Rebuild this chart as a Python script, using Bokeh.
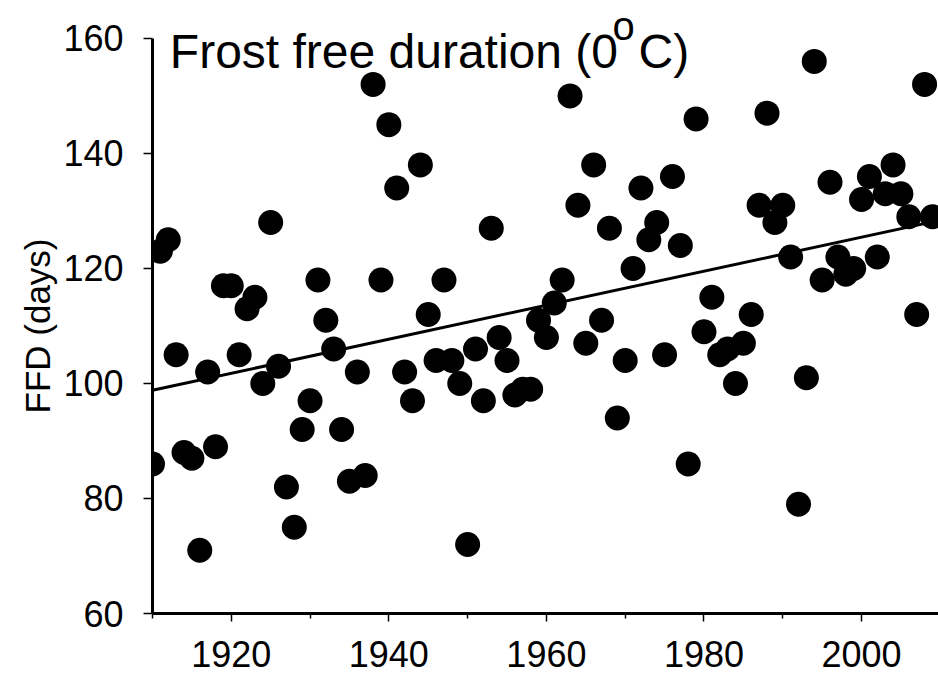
import numpy as np
from bokeh.plotting import figure
from bokeh.models import Range1d, FixedTicker, Label, Title
from bokeh.embed import file_html
from bokeh.resources import INLINE

# ---- data ----
years = list(range(1910, 2010))
ffd = [86, 123, 125, 105, 88, 87, 71, 102, 89, 117,
       117, 105, 113, 115, 100, 128, 103, 82, 75, 92,
       97, 118, 111, 106, 92, 83, 102, 84, 152, 118,
       145, 134, 102, 97, 138, 112, 104, 118, 104, 100,
       72, 106, 97, 127, 108, 104, 98, 99, 99, 111,
       108, 114, 118, 150, 131, 107, 138, 111, 127, 94,
       104, 120, 134, 125, 128, 105, 136, 124, 86, 146,
       109, 115, 105, 106, 100, 107, 112, 131, 147, 128,
       131, 122, 79, 101, 156, 118, 135, 122, 119, 120,
       132, 136, 122, 133, 138, 133, 129, 112, 152, 129]
x_major = [1920, 1940, 1960, 1980, 2000]
x_minor = [1910, 1930, 1950, 1970, 1990, 2010]
y_major = [60, 80, 100, 120, 140, 160]
title_parts = ["Frost free duration (0", "o", "C)"]
y_label = "FFD (days)"

FONT = "Liberation Sans"

# frame spans the full height; the y axis is drawn only over 60..160
p = figure(width=938, height=676,
           x_range=Range1d(1910, 2009.77), y_range=Range1d(60, 166.6),
           output_backend="svg", toolbar_location=None,
           min_border_left=152, min_border_right=0,
           min_border_top=0, min_border_bottom=63)
p.outline_line_color = None
p.xgrid.visible = False
p.ygrid.visible = False
p.background_fill_color = "white"
p.border_fill_color = "white"

# trend line (least squares fit of the series)
slope, icpt = np.polyfit(np.array(years, dtype=float), np.array(ffd, dtype=float), 1)
xs = [years[0], years[-1]]
p.line(xs, [icpt + slope * x for x in xs], line_color="black", line_width=3)

p.scatter(years, ffd, size=25, fill_color="black", line_color="black", line_width=0)

# axes
xa = p.xaxis[0]
xa.ticker = FixedTicker(ticks=x_major, minor_ticks=x_minor)
xa.axis_line_width = 3
xa.major_tick_line_width = 1.5
xa.minor_tick_line_width = 1.5
xa.major_tick_in = 0
xa.major_tick_out = 8
xa.minor_tick_in = 0
xa.minor_tick_out = 5
xa.major_label_text_font = FONT
xa.major_label_text_font_size = "36px"
xa.major_label_text_color = "black"
xa.major_label_standoff = 19

ya = p.yaxis[0]
ya.bounds = (60, 160)
ya.ticker = FixedTicker(ticks=y_major, minor_ticks=[])
ya.axis_line_width = 3
ya.major_tick_line_width = 1.5
ya.major_tick_in = 0
ya.major_tick_out = 9
ya.minor_tick_out = 0
ya.minor_tick_in = 0
ya.major_label_text_font = FONT
ya.major_label_text_font_size = "36px"
ya.major_label_text_color = "black"
ya.major_label_standoff = 20

# y axis title, placed over the 60..160 span
p.add_layout(Title(text=y_label, text_font=FONT, text_font_size="35px",
                   text_font_style="normal", text_color="black",
                   align="left", offset=200, standoff=8), "left")

# chart title pieces (anchored in data space: baseline ~13 px below the 160 line)
p.add_layout(Label(x=1912.2, y=157.7, text=title_parts[0], text_font=FONT,
                   text_font_size="48px", text_color="black",
                   text_baseline="alphabetic"))
p.add_layout(Label(x=1968.4, y=162.2, text=title_parts[1], text_font=FONT,
                   text_font_size="40px", text_color="black",
                   text_baseline="alphabetic"))
p.add_layout(Label(x=1971.7, y=157.7, text=title_parts[2], text_font=FONT,
                   text_font_size="48px", text_color="black",
                   text_baseline="alphabetic"))

open("out.html", "w").write(file_html(p, INLINE))
